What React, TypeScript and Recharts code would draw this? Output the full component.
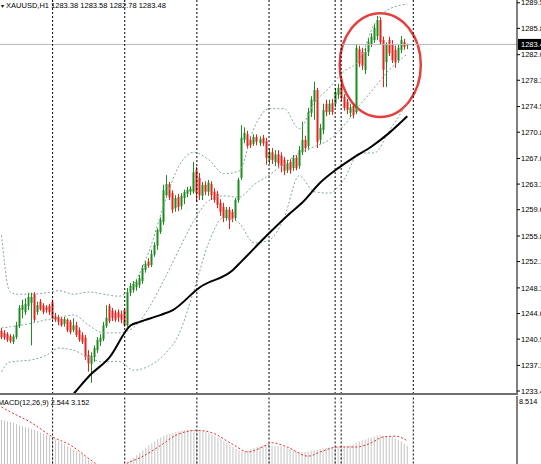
import React from 'react';
import { ComposedChart, Bar, Line, XAxis, YAxis, ReferenceLine, ReferenceArea } from 'recharts';

const symbol = 'XAUUSD,H1';

const opens = [
  1242.1, 1241.8, 1241.6, 1241.3, 1240.5, 1241.2, 1242.8, 1245.1, 1244.8, 1245.7,
  1246.1, 1247.4, 1244.8, 1246.3, 1245.8, 1245.5, 1245.7, 1246.3, 1244.2, 1244.1,
  1243.8, 1243.1, 1243.7, 1243.4, 1242.2, 1242.9, 1242.2, 1241.5, 1241.1, 1238.6,
  1237.3, 1238.3, 1239.3, 1240.5, 1240.9, 1242.8, 1245.7, 1245.0, 1244.7, 1244.8,
  1244.5, 1245.1, 1242.9, 1247.6, 1248.0, 1248.4, 1248.7, 1249.3, 1250.9, 1252.1,
  1251.6, 1253.1, 1254.4, 1256.4, 1257.8, 1261.7, 1263.3, 1262.0, 1259.8, 1261.4,
  1260.1, 1261.3, 1261.9, 1262.2, 1262.2, 1265.3, 1264.2, 1261.6, 1263.2, 1262.2,
  1263.3, 1262.2, 1261.9, 1260.6, 1260.0, 1258.4, 1259.6, 1259.3, 1258.4, 1261.0,
  1264.2, 1269.7, 1270.5, 1269.7, 1269.1, 1270.1, 1269.2, 1270.0, 1269.5, 1266.8,
  1267.9, 1266.5, 1267.6, 1267.4, 1266.8, 1265.3, 1266.5, 1265.6, 1267.1, 1265.9,
  1267.9, 1269.7, 1268.8, 1273.6, 1275.2, 1276.9, 1269.7, 1271.1, 1274.9, 1273.7,
  1275.0, 1274.9, 1276.2, 1277.5, 1275.9, 1275.2, 1273.6, 1274.6, 1273.7, 1282.8,
  1282.4, 1279.8, 1282.4, 1283.5, 1284.1, 1284.7, 1287.0, 1284.1, 1280.9, 1284.1,
  1283.5, 1282.7, 1281.2, 1282.7, 1283.8, 1283.38,
];

const highs = [
  1242.5, 1242.2, 1241.9, 1241.6, 1241.6, 1243.4, 1245.8, 1246.6, 1246.8, 1247.6,
  1247.6, 1247.7, 1246.3, 1246.7, 1246.1, 1245.8, 1246.0, 1246.6, 1244.7, 1244.4,
  1244.1, 1244.1, 1243.9, 1243.7, 1243.9, 1243.4, 1242.6, 1241.9, 1241.5, 1239.3,
  1239.0, 1240.0, 1241.2, 1241.6, 1243.4, 1245.8, 1246.0, 1245.4, 1245.1, 1245.2,
  1245.0, 1245.4, 1248.3, 1249.0, 1249.3, 1249.6, 1250.2, 1251.6, 1252.2, 1252.6,
  1253.8, 1254.9, 1256.9, 1258.5, 1263.2, 1264.6, 1263.6, 1262.4, 1261.7, 1261.9,
  1262.0, 1262.5, 1262.9, 1263.0, 1266.5, 1265.8, 1264.9, 1263.6, 1263.7, 1263.9,
  1263.7, 1262.7, 1262.3, 1261.1, 1260.6, 1260.0, 1260.0, 1259.7, 1261.3, 1264.2,
  1271.8, 1271.5, 1271.0, 1270.2, 1270.5, 1270.5, 1270.2, 1270.4, 1270.0, 1268.5,
  1268.5, 1268.2, 1268.2, 1267.9, 1267.2, 1266.8, 1266.9, 1267.5, 1267.5, 1268.8,
  1272.3, 1270.3, 1274.3, 1276.0, 1278.1, 1277.2, 1272.0, 1274.9, 1275.5, 1275.5,
  1275.6, 1277.2, 1277.8, 1278.1, 1276.3, 1275.6, 1274.9, 1275.0, 1283.5, 1283.3,
  1283.0, 1283.0, 1284.4, 1285.1, 1286.4, 1287.6, 1287.4, 1284.6, 1283.8, 1284.6,
  1284.1, 1283.3, 1283.5, 1284.7, 1284.3, 1283.58,
];

const lows = [
  1240.9, 1240.8, 1240.5, 1240.3, 1240.2, 1240.9, 1242.5, 1243.9, 1244.4, 1245.1,
  1240.0, 1243.4, 1244.4, 1245.0, 1244.5, 1244.7, 1244.4, 1243.7, 1243.4, 1242.9,
  1242.7, 1242.7, 1241.9, 1241.6, 1241.9, 1241.2, 1240.5, 1240.2, 1237.9, 1236.2,
  1234.6, 1237.6, 1238.9, 1239.9, 1240.6, 1242.5, 1243.2, 1243.5, 1243.4, 1243.4,
  1243.2, 1242.7, 1242.7, 1247.1, 1247.6, 1247.9, 1248.3, 1248.9, 1250.5, 1251.2,
  1251.3, 1252.8, 1253.8, 1256.1, 1257.4, 1261.3, 1261.0, 1259.1, 1259.3, 1259.4,
  1259.6, 1260.4, 1261.4, 1261.7, 1261.9, 1260.7, 1261.0, 1261.0, 1261.7, 1261.6,
  1261.0, 1260.6, 1259.8, 1258.7, 1257.8, 1258.0, 1256.8, 1257.8, 1258.0, 1260.6,
  1263.9, 1269.2, 1268.4, 1268.5, 1268.8, 1268.9, 1268.8, 1268.8, 1266.1, 1266.2,
  1266.2, 1265.9, 1265.7, 1265.0, 1264.6, 1264.9, 1264.8, 1265.2, 1265.3, 1265.5,
  1267.5, 1267.9, 1268.2, 1273.0, 1272.6, 1268.5, 1269.1, 1270.5, 1273.1, 1273.3,
  1273.3, 1274.4, 1275.6, 1275.3, 1273.9, 1273.4, 1273.0, 1272.8, 1273.4, 1280.2,
  1279.8, 1279.2, 1281.8, 1283.1, 1283.7, 1284.1, 1283.4, 1277.3, 1277.3, 1281.8,
  1280.8, 1280.1, 1280.8, 1282.2, 1282.7, 1282.78,
];

const closes = [
  1241.2, 1241.1, 1240.8, 1240.6, 1241.3, 1242.9, 1245.4, 1245.8, 1246.0, 1247.0,
  1247.0, 1243.7, 1245.8, 1245.2, 1244.8, 1245.1, 1244.8, 1243.9, 1243.7, 1243.4,
  1242.9, 1243.8, 1242.2, 1241.9, 1242.9, 1241.5, 1240.8, 1240.5, 1238.3, 1237.4,
  1238.5, 1239.6, 1240.8, 1241.1, 1242.9, 1244.0, 1243.5, 1244.0, 1243.7, 1244.0,
  1243.7, 1242.9, 1247.7, 1248.6, 1248.9, 1249.2, 1249.7, 1251.2, 1251.8, 1251.5,
  1253.2, 1254.5, 1256.7, 1258.1, 1262.4, 1263.3, 1261.4, 1259.6, 1261.3, 1260.0,
  1261.6, 1262.2, 1262.5, 1262.6, 1265.0, 1262.0, 1261.7, 1263.2, 1262.2, 1263.5,
  1261.7, 1261.0, 1260.3, 1259.3, 1258.4, 1259.6, 1258.1, 1258.3, 1261.0, 1263.9,
  1270.0, 1270.7, 1268.8, 1268.9, 1270.1, 1269.4, 1269.8, 1269.2, 1267.1, 1267.9,
  1266.8, 1267.6, 1266.3, 1265.9, 1265.2, 1266.3, 1265.3, 1267.1, 1265.6, 1268.2,
  1269.7, 1268.5, 1273.7, 1275.5, 1276.9, 1269.4, 1271.4, 1274.0, 1273.7, 1274.9,
  1273.7, 1276.6, 1277.2, 1275.7, 1274.3, 1274.0, 1274.4, 1273.3, 1283.0, 1280.7,
  1280.4, 1282.4, 1283.8, 1284.6, 1285.9, 1287.0, 1283.8, 1279.8, 1283.4, 1282.2,
  1281.2, 1280.9, 1283.0, 1284.1, 1283.1, 1283.48,
];

// Bollinger bands (20, 2) read at sampled bars
const bandIdx = [0, 1, 2, 3, 5, 10, 15, 19, 24, 29, 34, 39, 44, 49, 54, 59, 64, 69, 74, 79, 84, 89, 94, 99, 104, 109, 114, 119, 124, 129, 135];
const bandUpper = [1255.9, 1252.0, 1248.7, 1247.7, 1247.4, 1247.4, 1247.6, 1247.9, 1247.4, 1247.7, 1247.4, 1247.1, 1248.9, 1253.5, 1260.3, 1265.9, 1267.9, 1266.8, 1264.8, 1265.2, 1271.4, 1274.2, 1274.2, 1271.3, 1275.0, 1277.2, 1279.6, 1281.2, 1286.4, 1288.6, 1289.3];
const bandMiddle = [1242.5, 1242.6, 1242.6, 1242.7, 1242.8, 1243.2, 1243.7, 1244.0, 1244.4, 1242.9, 1241.8, 1241.8, 1242.6, 1245.4, 1249.4, 1253.8, 1258.0, 1260.9, 1261.6, 1261.4, 1263.2, 1264.6, 1266.2, 1267.8, 1268.7, 1269.7, 1271.8, 1274.6, 1277.2, 1279.8, 1282.1];
const bandLower = [1236.2, 1236.9, 1237.5, 1237.6, 1237.7, 1237.9, 1238.6, 1239.6, 1239.3, 1238.2, 1237.6, 1237.7, 1236.4, 1237.0, 1238.6, 1241.6, 1247.9, 1254.9, 1258.5, 1257.7, 1254.8, 1255.2, 1258.4, 1264.5, 1262.2, 1262.0, 1264.0, 1267.8, 1267.8, 1271.0, 1275.0];

// Long moving average read at sampled bars
const maIdx = [18, 24, 25, 29, 36, 43, 46, 53, 57, 66, 77, 80, 89, 96, 100, 106, 112, 117, 123, 129, 135];
const maValues = [1230.5, 1233.0, 1233.5, 1235.5, 1238.3, 1242.9, 1243.4, 1244.4, 1245.1, 1248.4, 1250.9, 1252.2, 1256.2, 1259.1, 1260.6, 1263.5, 1265.6, 1267.1, 1268.7, 1270.7, 1273.1];

// MACD(12,26,9) histogram per bar
const macdHist = [
  5.65, 5.6, 5.5, 5.4,
  5.3, 5.15, 5.0, 4.9, 4.8, 4.7, 4.6,
  4.45, 4.3, 4.15, 4.0, 3.85, 3.7,
  3.5, 3.3, 3.1, 2.9, 2.7, 2.5,
  2.3, 2.1, 1.9, 1.7, 1.5,
  1.2, 0.9, 0.6, 0.4,
  0.2, 0.1, 0.0, -0.1, -0.1, -0.2, -0.1, 0.0, 0.1, 0.3,
  0.5, 0.8, 1.1, 1.4, 1.7, 2.0, 2.3, 2.6, 2.85, 3.1, 3.35, 3.55, 3.75, 3.9, 4.0, 4.1, 4.2, 4.3, 4.35, 4.4, 4.45, 4.45, 4.45, 4.45,
  4.4, 4.3, 4.2, 4.05, 3.9, 3.75, 3.55, 3.35, 3.1, 2.9, 2.65, 2.4, 2.2, 2.0, 1.9, 1.85,
  2.0, 2.15, 2.3, 2.4, 2.5, 2.6, 2.65, 2.65, 2.6, 2.55, 2.5, 2.45, 2.35, 2.25, 2.15, 2.0, 1.9, 1.85,
  1.8, 1.8, 1.85, 1.95, 2.05, 2.1, 2.15, 2.25, 2.3, 2.35, 2.4, 2.4, 2.45, 2.5, 2.5, 2.55, 2.6, 2.7,
  2.9, 3.05, 3.2, 3.3, 3.45, 3.55, 3.65, 3.75, 3.8, 3.75, 3.7, 3.65, 3.6, 3.45, 3.25, 3.05, 2.8, 2.544,
];
const signalIdx = [0, 3, 10, 17, 23, 28, 31, 36, 42, 46, 53, 58, 65, 70, 77, 82, 88, 90, 95, 102, 106, 112, 118, 123, 127, 131, 135];
const signalValues = [7.2, 6.6, 5.3, 3.6, 2.6, 1.3, 0.5, -0.3, 0.5, 1.1, 2.6, 3.8, 4.4, 4.1, 2.7, 1.8, 2.6, 2.9, 2.4, 1.3, 1.8, 2.4, 2.4, 2.9, 3.6, 3.7, 3.152];
const macdMax = 8.514;

const priceTicks = [1233.4, 1237.1, 1240.9, 1244.6, 1248.3, 1252.1, 1255.8, 1259.6, 1263.3, 1267.0, 1270.8, 1274.5, 1278.3, 1282.0, 1285.8, 1289.5];
const separators = [17, 41, 65, 89, 111, 113, 137];
const highlight = { from: 113, to: 139, low: 1273.0, high: 1288.0 };

const SLOTS = 172;
const W = 541;
const AXIS_W = 24;
const GREEN = '#1f8a1f';
const RED = '#e4231d';
const BAND = '#7fa99b';
const FONT = '"Liberation Sans", Arial, sans-serif';
const NO_DOT = { r: 0, strokeWidth: 0, fillOpacity: 0 };

type Row = { [k: string]: any };
const rows: Row[] = Array.from({ length: SLOTS }, (_, i) => {
  const has = i < closes.length;
  return {
    i,
    range: has ? [lows[i], highs[i]] : null,
    o: has ? opens[i] : null,
    h: has ? highs[i] : null,
    l: has ? lows[i] : null,
    c: has ? closes[i] : null,
    hist: has ? macdHist[i] : null,
    upper: null,
    middle: null,
    lower: null,
    ma: null,
    signal: null,
  };
});
bandIdx.forEach((k, j) => {
  rows[k].upper = bandUpper[j];
  rows[k].middle = bandMiddle[j];
  rows[k].lower = bandLower[j];
});
maIdx.forEach((k, j) => { rows[k].ma = maValues[j]; });
signalIdx.forEach((k, j) => { rows[k].signal = signalValues[j]; });

const last = closes.length - 1;
const header = `${symbol} ${opens[last].toFixed(2)} ${highs[last].toFixed(2)} ${lows[last].toFixed(2)} ${closes[last].toFixed(2)}`;
const macdLabel = `MACD(12,26,9) ${macdHist[last].toFixed(3)} ${signalValues[signalValues.length - 1].toFixed(3)}`;

const Candle = (props: any) => {
  const { x, y, width, height, payload } = props;
  if (!payload || payload.o == null) return null;
  const { o, h, l, c } = payload;
  const top = Math.min(y, y + height);
  const hp = Math.abs(height);
  const ppu = h > l ? hp / (h - l) : 0;
  const bodyTop = top + (h - Math.max(o, c)) * ppu;
  const bodyBot = top + (h - Math.min(o, c)) * ppu;
  const px = Math.floor(x + width / 2);
  const color = c >= o ? GREEN : RED;
  return (
    <g>
      <line x1={px + 0.5} x2={px + 0.5} y1={top} y2={top + hp} stroke={color} strokeWidth={1} />
      <rect x={px - 0.5} y={bodyTop} width={2} height={Math.max(1, bodyBot - bodyTop)} fill={color} />
    </g>
  );
};

const Ellipse = (p: any) => (
  <ellipse
    cx={p.x + p.width / 2}
    cy={p.y + p.height / 2}
    rx={Math.abs(p.width) / 2}
    ry={Math.abs(p.height) / 2}
    fill="none"
    stroke="#e3403e"
    strokeWidth={2.5}
  />
);

const PriceTag = (props: any) => {
  const vb = props.viewBox || {};
  const x0 = (vb.x || 0) + (vb.width || 0) + 1;
  const yc = vb.y || 0;
  return (
    <g>
      <rect x={x0} y={yc - 5.5} width={30} height={11} fill="#000" />
      <text x={x0 + 3} y={yc + 2.6} fill="#fff" fontSize={7.5} fontFamily={FONT}>
        {closes[last].toFixed(2)}
      </text>
    </g>
  );
};

export default function App() {
  return (
    <div style={{ position: 'fixed', left: 0, top: 0, width: W, height: 464, overflow: 'hidden', background: '#fff', fontFamily: FONT }}>
      <div style={{ position: 'absolute', left: 0, top: 0 }}>
        <ComposedChart width={W} height={394} data={rows} margin={{ top: 0, right: 0, bottom: 0, left: 0 }} barCategoryGap={0} barGap={0}>
          <XAxis dataKey="i" type="category" hide />
          <YAxis
            orientation="right"
            width={AXIS_W}
            domain={[1232.97, 1289.9]}
            allowDataOverflow
            ticks={priceTicks}
            interval={0}
            tickSize={3}
            tickMargin={1}
            tickFormatter={(v: number) => v.toFixed(1)}
            tick={{ fontSize: 7.5, fill: '#000', fontFamily: FONT, textAnchor: 'start' }}
            axisLine={{ stroke: '#000' }}
            tickLine={{ stroke: '#000' }}
          />
          <ReferenceLine y={closes[last]} stroke="#b8b8b8" strokeWidth={1} label={<PriceTag />} />
          {separators.map((s) => (
            <ReferenceLine key={s} x={s} stroke="#000" strokeWidth={1} strokeDasharray="2 2" />
          ))}
          <Line dataKey="upper" type="monotone" stroke={BAND} strokeWidth={1} strokeDasharray="2 2" dot={NO_DOT} activeDot={false} connectNulls isAnimationActive={false} />
          <Line dataKey="middle" type="monotone" stroke={BAND} strokeWidth={1} strokeDasharray="2 2" dot={NO_DOT} activeDot={false} connectNulls isAnimationActive={false} />
          <Line dataKey="lower" type="monotone" stroke={BAND} strokeWidth={1} strokeDasharray="2 2" dot={NO_DOT} activeDot={false} connectNulls isAnimationActive={false} />
          <Line dataKey="ma" type="monotone" stroke="#000" strokeWidth={2} dot={NO_DOT} activeDot={false} connectNulls isAnimationActive={false} />
          <Bar dataKey="range" shape={<Candle />} isAnimationActive={false} />
          <ReferenceArea
            x1={highlight.from}
            x2={highlight.to}
            y1={highlight.low}
            y2={highlight.high}
            ifOverflow="visible"
            shape={<Ellipse />}
          />
        </ComposedChart>
      </div>

      <div style={{ position: 'absolute', left: 1, top: 0, fontSize: 7.5, lineHeight: '11px', color: '#000', whiteSpace: 'nowrap' }}>
        <span style={{ fontSize: 6 }}>▾</span> {header}
      </div>

      <div style={{ position: 'absolute', left: 0, top: 393, width: 518, height: 2, background: '#6e6e6e' }} />

      <div style={{ position: 'absolute', left: 0, top: 395 }}>
        <ComposedChart width={W} height={86} data={rows} margin={{ top: 1, right: 0, bottom: 1.5, left: 0 }} barCategoryGap={0} barGap={0}>
          <XAxis dataKey="i" type="category" hide />
          <YAxis
            orientation="right"
            width={AXIS_W}
            domain={[-1.5, macdMax]}
            allowDataOverflow
            tick={false}
            tickLine={false}
            axisLine={{ stroke: '#000' }}
          />
          {separators.map((s) => (
            <ReferenceLine key={s} x={s} stroke="#000" strokeWidth={1} strokeDasharray="2 2" />
          ))}
          <Bar dataKey="hist" fill="#c4c4c4" barSize={1} isAnimationActive={false} />
          <Line dataKey="signal" type="monotone" stroke="#e0302c" strokeWidth={1} strokeDasharray="2 2" dot={NO_DOT} activeDot={false} connectNulls isAnimationActive={false} />
        </ComposedChart>
      </div>

      <div style={{ position: 'absolute', left: -2, top: 398, fontSize: 7.3, lineHeight: '10px', color: '#000', whiteSpace: 'nowrap' }}>
        {macdLabel}
      </div>
      <div style={{ position: 'absolute', left: 519, top: 397, fontSize: 7.3, lineHeight: '10px', color: '#000', whiteSpace: 'nowrap' }}>
        {macdMax.toFixed(3)}
      </div>
    </div>
  );
}
